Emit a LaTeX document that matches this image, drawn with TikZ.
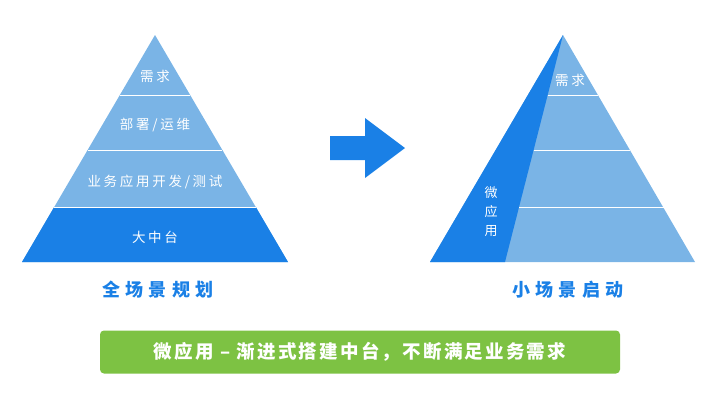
\documentclass[tikz,border=0pt]{standalone}
\usepackage{fontspec}
\setmainfont{Noto Sans CJK SC}
\begin{document}
\begin{tikzpicture}[x=1pt,y=-1pt,
  lay/.style={text=white,font=\fontsize{13.5}{15}\selectfont\addfontfeature{LetterSpace=20}},
  captxt/.style={text=db,font=\fontsize{18}{20}\selectfont\bfseries\addfontfeature{LetterSpace=30}}]
\definecolor{lb}{HTML}{7AB4E6}
\definecolor{db}{HTML}{1A80E6}
\definecolor{gr}{HTML}{7DC243}
\useasboundingbox (0,0) rectangle (720,400);
% left pyramid
\fill[lb] (155,35) -- (22,262) -- (288,262) -- cycle;
\fill[db] (54.2,207) -- (22,262) -- (288,262) -- (255.8,207) -- cycle;
\draw[white,line width=1pt] (119.8,95) -- (190.2,95) (87.6,150) -- (222.4,150) (54.2,207) -- (255.8,207);
\node[lay] (l1) at (155,76) {需求};
\node[lay] (l2) at (155,125) {部署/运维};
\node[lay] (l3) at (155,182) {业务应用开发/测试};
\node[lay] (l4) at (155,237) {大中台};
% right pyramid
\fill[lb] (563,35) -- (430,262) -- (695,262) -- cycle;
\fill[db] (563,35) -- (430,262) -- (505,262) -- cycle;
\draw[white,line width=1pt] (547.7,95) -- (598.2,95) (533.6,150) -- (630.4,150) (519.1,207) -- (663.8,207);
\node[lay] (r1) at (570,80) {需求};
\node[text=white,align=center,font=\fontsize{13}{19}\selectfont] (r2) at (491,212) {微\\应\\用};
% arrow
\fill[db] (330,136) -- (365,136) -- (365,118) -- (405,148) -- (365,178) -- (365,160) -- (330,160) -- cycle;
\node[captxt] (c1) at (158,290) {全场景规划};
\node[captxt] (c2) at (568,290) {小场景启动};
\node[fill=gr,rounded corners=4pt,minimum width=520pt,minimum height=43pt,text=white,font=\fontsize{18.5}{20}\selectfont\bfseries\addfontfeature{LetterSpace=12}] (g) at (360,352) {微应用 – 渐进式搭建中台，不断满足业务需求};
\end{tikzpicture}
\end{document}
